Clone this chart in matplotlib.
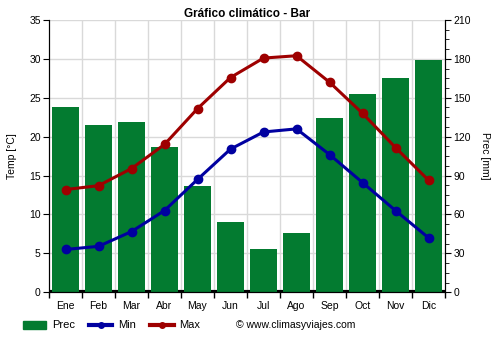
import matplotlib
matplotlib.use("Agg")
import matplotlib.pyplot as plt
from matplotlib.patches import Patch
from matplotlib.lines import Line2D
import numpy as np

plt.rcParams['font.family'] = ['Liberation Sans', 'DejaVu Sans']

months = ["Ene", "Feb", "Mar", "Abr", "May", "Jun", "Jul", "Ago", "Sep", "Oct", "Nov", "Dic"]
prec = [143, 129, 131, 112, 82, 54, 33, 46, 134, 153, 165, 179]
tmin = [5.5, 5.9, 7.8, 10.5, 14.5, 18.4, 20.6, 21.0, 17.7, 14.1, 10.5, 7.0]
tmax = [13.2, 13.7, 15.9, 19.0, 23.6, 27.6, 30.1, 30.4, 27.0, 23.0, 18.6, 14.4]

green = '#037B30'
blue = '#0000A0'
red = '#9E0000'
fs = 7.5

fig = plt.figure(figsize=(5, 3.5), dpi=100)
ax2 = fig.add_axes([0.098, 0.165, 0.792, 0.778])
ax = ax2.twinx()
ax.set_zorder(ax2.get_zorder() + 1)
ax.patch.set_visible(False)

x = np.arange(len(months))

# precipitation bars
ax2.axhline(0, color='black', lw=3, zorder=1)
ax2.bar(x, prec, width=0.8, color=green, zorder=2)
ax2.set_ylim(0, 210)
ax2.set_xlim(-0.5, 11.5)
ax2.yaxis.tick_right()
ax2.yaxis.set_label_position('right')
ax2.set_yticks(np.arange(0, 211, 30))
ax2.set_yticks(np.arange(0, 211, 7.5), minor=True)
ax2.set_ylabel('Prec [mm]', fontsize=fs, rotation=-90, labelpad=14)
for xb in np.arange(0.5, 11.5, 1):
    ax2.axvline(xb, color='#d9d9d9', lw=1, zorder=0)
for yb in np.arange(30, 211, 30):
    ax2.axhline(yb, color='#d9d9d9', lw=1, zorder=0)

ax2.set_xticks(x)
ax2.set_xticklabels(months, fontsize=fs)
ax2.set_xticks(np.arange(-0.5, 12, 1), minor=True)
ax2.tick_params(axis='x', which='major', length=0, pad=6)
ax2.tick_params(axis='x', which='minor', length=4, width=1, color='black')
ax2.tick_params(axis='y', which='major', length=4, labelsize=fs, pad=2)
ax2.tick_params(axis='y', which='minor', length=3)

# temperature lines
ax.plot(x, tmin, color=blue, lw=2.2, marker='o', ms=6, zorder=3)
ax.plot(x, tmax, color=red, lw=2.2, marker='o', ms=6, zorder=3)
ax.set_ylim(0, 35)
ax.yaxis.tick_left()
ax.yaxis.set_label_position('left')
ax.set_yticks(np.arange(0, 36, 5))
ax.tick_params(axis='y', length=4, labelsize=fs, pad=2)
ax.set_ylabel('Temp [°C]', fontsize=fs, labelpad=9)

for a in (ax, ax2):
    a.spines['top'].set_visible(False)
    a.spines['left'].set_color('black')
    a.spines['right'].set_color('black')
    a.spines['bottom'].set_color('black')

ax.set_title('Gráfico climático - Bar', fontsize=8.5, fontweight='bold', pad=-2)

handles = [Patch(color=green),
           Line2D([0], [0], color=blue, lw=3, marker='o', ms=4),
           Line2D([0], [0], color=red, lw=3, marker='o', ms=4)]
fig.legend(handles, ['Prec', 'Min', 'Max'], loc='center left', bbox_to_anchor=(0.03, 0.07),
           ncol=3, frameon=False, fontsize=fs + 0.5, handlelength=2.1, columnspacing=1.3,
           handletextpad=0.5, borderpad=0.2)
fig.text(0.472, 0.07, '© www.climasyviajes.com', fontsize=fs, va='center')

fig.savefig('out.png', dpi=100)
